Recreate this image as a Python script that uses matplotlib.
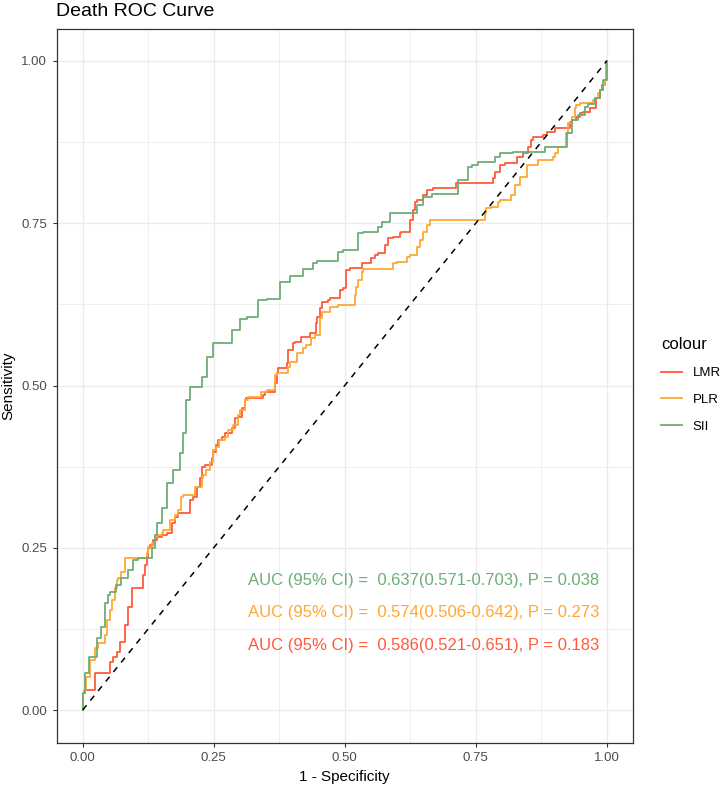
#%% -- imports --
import numpy as np
import matplotlib
matplotlib.use('Agg')
import matplotlib.pyplot as plt
from matplotlib.lines import Line2D

plt.rcParams['font.family'] = ['Liberation Sans', 'DejaVu Sans']


#%% -- data --
series_names = ['LMR', 'PLR', 'SII']

lmr_fpr = [0, 0.004, 0.023, 0.032, 0.052, 0.057, 0.065, 0.071, 0.080, 0.086, 0.094, 0.095, 0.099,
           0.115, 0.118, 0.122, 0.124, 0.128, 0.134, 0.141, 0.151, 0.160, 0.170, 0.176, 0.182, 0.188,
           0.204, 0.210, 0.219, 0.223, 0.227, 0.233, 0.246, 0.248, 0.255, 0.258, 0.265, 0.271, 0.274,
           0.284, 0.290, 0.296, 0.303, 0.309, 0.312, 0.319, 0.344, 0.347, 0.366, 0.370, 0.372, 0.379,
           0.389, 0.391, 0.401, 0.405, 0.417, 0.433, 0.446, 0.448, 0.452, 0.456, 0.468, 0.471, 0.490,
           0.496, 0.503, 0.510, 0.513, 0.532, 0.534, 0.551, 0.557, 0.563, 0.576, 0.582, 0.592, 0.605,
           0.608, 0.624, 0.630, 0.634, 0.637, 0.649, 0.656, 0.668, 0.713, 0.716, 0.782, 0.786, 0.796,
           0.805, 0.828, 0.840, 0.849, 0.856, 0.859, 0.878, 0.885, 0.901, 0.904, 0.929, 0.933, 0.942,
           0.948, 0.954, 0.968, 0.980, 0.987, 0.990, 0.996, 0.999, 1.0]
lmr_tpr = [0, 0.026, 0.031, 0.057, 0.057, 0.074, 0.082, 0.089, 0.105, 0.131, 0.159, 0.177, 0.188,
           0.188, 0.208, 0.223, 0.236, 0.250, 0.254, 0.262, 0.267, 0.270, 0.273, 0.288, 0.298, 0.304,
           0.304, 0.324, 0.328, 0.344, 0.357, 0.374, 0.378, 0.388, 0.398, 0.408, 0.416, 0.421, 0.427,
           0.427, 0.435, 0.450, 0.451, 0.465, 0.478, 0.481, 0.481, 0.485, 0.490, 0.504, 0.519, 0.527,
           0.527, 0.535, 0.555, 0.565, 0.567, 0.575, 0.581, 0.596, 0.606, 0.619, 0.629, 0.632, 0.635,
           0.647, 0.650, 0.678, 0.681, 0.681, 0.689, 0.689, 0.696, 0.701, 0.704, 0.716, 0.727, 0.729,
           0.735, 0.737, 0.755, 0.770, 0.783, 0.786, 0.794, 0.801, 0.804, 0.812, 0.812, 0.820, 0.829,
           0.840, 0.843, 0.852, 0.858, 0.867, 0.878, 0.883, 0.886, 0.891, 0.897, 0.897, 0.906, 0.909,
           0.914, 0.920, 0.921, 0.928, 0.943, 0.955, 0.963, 0.971, 1.0]

plr_fpr = [0, 0.002, 0.007, 0.013, 0.023, 0.029, 0.036, 0.042, 0.046, 0.052, 0.055, 0.061, 0.065,
           0.067, 0.074, 0.080, 0.090, 0.122, 0.124, 0.132, 0.137, 0.141, 0.151, 0.153, 0.166, 0.176,
           0.181, 0.188, 0.191, 0.214, 0.227, 0.229, 0.236, 0.242, 0.248, 0.255, 0.261, 0.271, 0.277,
           0.286, 0.296, 0.300, 0.309, 0.315, 0.322, 0.341, 0.351, 0.366, 0.370, 0.376, 0.391, 0.395,
           0.408, 0.420, 0.427, 0.436, 0.443, 0.452, 0.452, 0.456, 0.471, 0.487, 0.519, 0.522, 0.525,
           0.532, 0.534, 0.544, 0.592, 0.599, 0.618, 0.624, 0.637, 0.643, 0.649, 0.656, 0.662, 0.675,
           0.767, 0.770, 0.780, 0.792, 0.796, 0.818, 0.824, 0.834, 0.847, 0.849, 0.868, 0.875, 0.897,
           0.901, 0.906, 0.923, 0.926, 0.933, 0.939, 0.942, 0.948, 0.954, 0.973, 0.977, 0.983, 0.987,
           0.992, 0.996, 0.999, 1.0]
plr_tpr = [0, 0.026, 0.031, 0.051, 0.077, 0.096, 0.103, 0.103, 0.116, 0.139, 0.154, 0.169, 0.188,
           0.200, 0.203, 0.213, 0.234, 0.234, 0.242, 0.251, 0.257, 0.267, 0.270, 0.273, 0.277, 0.293,
           0.300, 0.308, 0.328, 0.331, 0.344, 0.357, 0.362, 0.370, 0.382, 0.401, 0.405, 0.416, 0.421,
           0.431, 0.439, 0.455, 0.462, 0.478, 0.482, 0.482, 0.490, 0.493, 0.516, 0.519, 0.519, 0.529,
           0.536, 0.550, 0.558, 0.562, 0.573, 0.578, 0.590, 0.604, 0.613, 0.621, 0.624, 0.639, 0.652,
           0.663, 0.675, 0.680, 0.680, 0.689, 0.690, 0.698, 0.701, 0.713, 0.724, 0.737, 0.747, 0.755,
           0.755, 0.766, 0.773, 0.775, 0.783, 0.786, 0.794, 0.809, 0.821, 0.840, 0.840, 0.847, 0.847,
           0.852, 0.858, 0.867, 0.889, 0.904, 0.914, 0.928, 0.932, 0.935, 0.935, 0.940, 0.943, 0.951,
           0.955, 0.963, 0.971, 1.0]

sii_fpr = [0, 0.005, 0.012, 0.027, 0.034, 0.042, 0.049, 0.052, 0.063, 0.074, 0.086, 0.096, 0.105,
           0.132, 0.137, 0.141, 0.151, 0.160, 0.172, 0.185, 0.191, 0.198, 0.204, 0.208, 0.227, 0.237,
           0.248, 0.261, 0.284, 0.300, 0.313, 0.334, 0.351, 0.376, 0.395, 0.420, 0.439, 0.448, 0.487,
           0.496, 0.525, 0.534, 0.563, 0.571, 0.586, 0.592, 0.637, 0.649, 0.666, 0.716, 0.735, 0.742,
           0.754, 0.786, 0.796, 0.821, 0.882, 0.887, 0.924, 0.933, 0.945, 0.958, 0.964, 0.977, 0.987,
           0.992, 1.0, 1.0]
sii_tpr = [0, 0.026, 0.057, 0.082, 0.111, 0.128, 0.165, 0.177, 0.182, 0.192, 0.203, 0.216, 0.231,
           0.234, 0.250, 0.270, 0.288, 0.312, 0.350, 0.370, 0.396, 0.427, 0.478, 0.498, 0.498, 0.513,
           0.544, 0.565, 0.565, 0.586, 0.602, 0.606, 0.632, 0.633, 0.659, 0.669, 0.680, 0.689, 0.692,
           0.706, 0.709, 0.735, 0.737, 0.744, 0.752, 0.766, 0.766, 0.778, 0.790, 0.795, 0.817, 0.837,
           0.840, 0.844, 0.852, 0.858, 0.860, 0.867, 0.867, 0.889, 0.909, 0.917, 0.929, 0.934, 0.943,
           0.955, 0.971, 1.0]

auc_labels = ['AUC (95% CI) =  0.586(0.521-0.651), P = 0.183',
              'AUC (95% CI) =  0.574(0.506-0.642), P = 0.273',
              'AUC (95% CI) =  0.637(0.571-0.703), P = 0.038']
label_y = [0.10, 0.15, 0.20]

colours = ['#FF5A3C', '#FFA733', '#6CAE76']


#%% -- plot --
fig = plt.figure(figsize=(7.25, 7.87), dpi=100)
ax = fig.add_axes([56.5/725, 44.5/787, (633-56.5)/725, (742.5-28.5)/787])

curves = [(lmr_fpr, lmr_tpr), (plr_fpr, plr_tpr), (sii_fpr, sii_tpr)]
for (fx, ty), c in zip(curves, colours):
    # ROC staircase: rise first, then move right
    ax.step(fx, ty, where='pre', color=c, lw=1.3, zorder=3)

ax.plot([0, 1], [0, 1], color='black', lw=1.1, ls=(0, (4, 4)), zorder=4)

for txt, y, c in zip(auc_labels, label_y, colours):
    ax.text(0.65, y, txt, color=c, fontsize=12, ha='center', va='center', zorder=5)

ax.set_xlim(-0.05, 1.05)
ax.set_ylim(-0.05, 1.05)
ticks = [0, 0.25, 0.5, 0.75, 1.0]
tick_labels = ['0.00', '0.25', '0.50', '0.75', '1.00']
ax.set_xticks(ticks)
ax.set_yticks(ticks)
ax.set_xticklabels(tick_labels)
ax.set_yticklabels(tick_labels)
ax.set_xticks([0.125, 0.375, 0.625, 0.875], minor=True)
ax.set_yticks([0.125, 0.375, 0.625, 0.875], minor=True)
ax.grid(which='major', color='#EBEBEB', lw=1.0, zorder=0)
ax.grid(which='minor', color='#EBEBEB', lw=0.55, zorder=0)
ax.set_axisbelow(True)
ax.tick_params(which='major', length=3, width=0.8, color='#333333', labelsize=9.5,
               labelcolor='#4D4D4D', pad=4)
ax.tick_params(which='minor', length=0)
for s in ax.spines.values():
    s.set_color('#333333')
    s.set_linewidth(0.9)

ax.set_xlabel('1 - Specificity', fontsize=11, labelpad=4)
ax.set_ylabel('Sensitivity', fontsize=11, labelpad=4)
fig.text(56.5/725, 1 - 11/787, 'Death ROC Curve', fontsize=14, ha='left', va='center')

handles = [Line2D([], [], color=c, lw=1.3) for c in colours]
leg = fig.legend(handles, series_names, title='colour', loc='center left',
                 bbox_to_anchor=(649/725, 1 - 385/787), frameon=False, fontsize=9.5,
                 title_fontsize=12, handlelength=1.6, handletextpad=0.8, labelspacing=1.1,
                 alignment='left')

plt.savefig('out.png', dpi=100)
